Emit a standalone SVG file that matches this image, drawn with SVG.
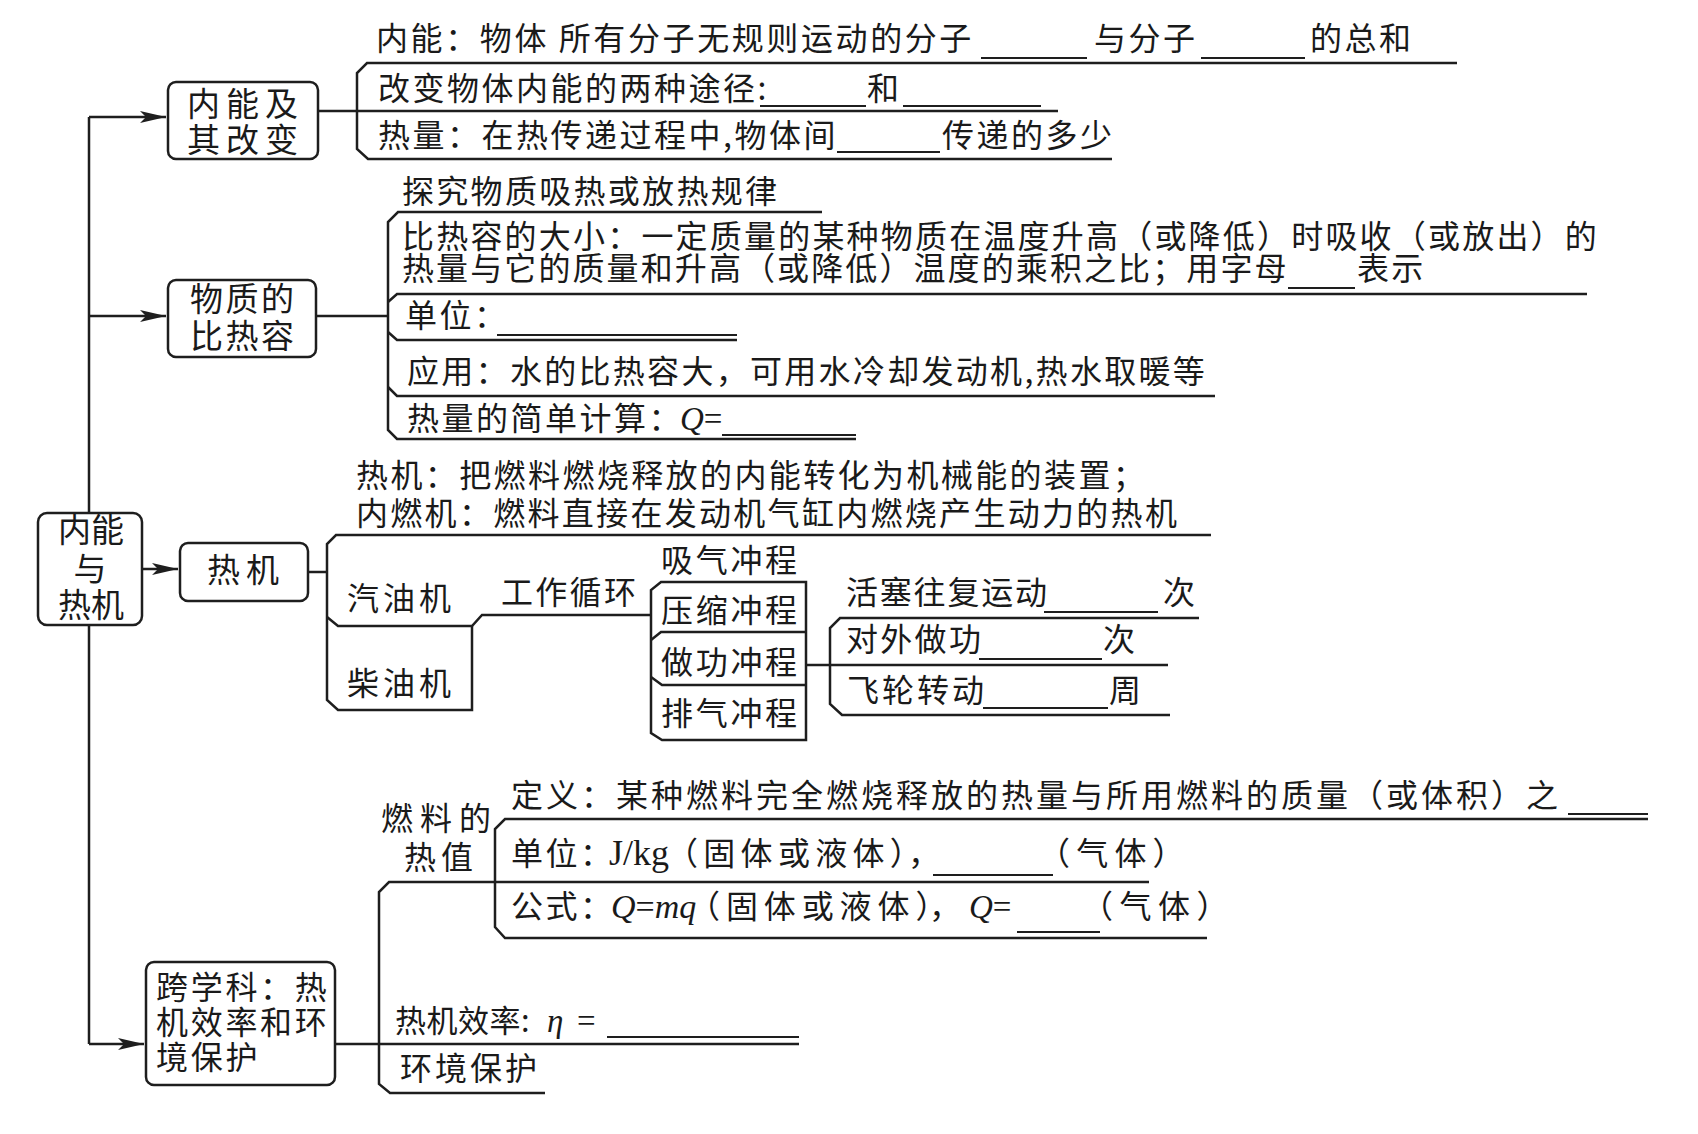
<svg xmlns="http://www.w3.org/2000/svg" width="1698" height="1134" viewBox="0 0 1698 1134">
<defs>
<style>
.ln{fill:none;stroke:#1e1e1e;stroke-width:2.5;stroke-linejoin:miter}
.bl{fill:none;stroke:#1e1e1e;stroke-width:2}
.box{fill:#fff;stroke:#1e1e1e;stroke-width:2.5}
.t{font-family:"Noto Sans CJK SC","Noto Sans CJK JP",sans-serif;font-size:32px;fill:#1a1a1a;letter-spacing:2.5px}
.bx{font-family:"Noto Sans CJK SC","Noto Sans CJK JP",sans-serif;font-size:33px;fill:#1a1a1a}
.s{font-family:"Liberation Serif",serif;font-size:33px;fill:#1a1a1a;letter-spacing:0}
.i{font-style:italic}
</style>
<marker id="ah" markerWidth="26" markerHeight="12" refX="26" refY="6" orient="auto" markerUnits="userSpaceOnUse">
<path d="M0,0 L26,6 L0,12 L6,6 Z" fill="#1e1e1e"/>
</marker>
</defs>
<rect width="1698" height="1134" fill="#fff"/>

<g id="connectors">
<path class="ln" d="M89 117 V1044"/>
<path class="ln" d="M89 117 H166" marker-end="url(#ah)"/>
<path class="ln" d="M89 316 H166" marker-end="url(#ah)"/>
<path class="ln" d="M89 1044 H144" marker-end="url(#ah)"/>
<path class="ln" d="M142 569 H178" marker-end="url(#ah)"/>
<path class="ln" d="M318 111 H357"/>
<path class="ln" d="M316 316 H388"/>
<path class="ln" d="M307 572 H327"/>
<path class="ln" d="M335 1044 H379"/>
<path class="ln" d="M806 665 H830"/>
</g>

<g id="node-root">
<rect class="box" x="38" y="513" width="104" height="112" rx="9"/>
<text class="bx" text-anchor="middle" font-size="31"><tspan x="91" y="542">内能</tspan><tspan x="90" y="581">与</tspan><tspan x="91" y="617">热机</tspan></text>
</g>

<g id="node-internal-energy">
<rect class="box" x="168" y="82" width="150" height="77" rx="8"/>
<text class="bx" letter-spacing="6"><tspan x="187" y="116">内能及</tspan><tspan x="187" y="152">其改变</tspan></text>
</g>

<g id="s1-rows">
<path class="ln" d="M1457 63 H367 L357 73 V149 L368 159 H1112"/>
<path class="ln" d="M357 111 H1058"/>
<path class="bl" d="M981 58 H1087 M1201 58 H1305 M760 106 H866 M903 106 H1041 M837 152 H940"/>
<text class="t" x="376" y="50" style="letter-spacing:2.6px">内能：物体 所有分子无规则运动的分子</text>
<text class="t" x="1094" y="50">与分子</text>
<text class="t" x="1310" y="50">的总和</text>
<text class="t" x="378" y="100">改变物体内能的两种途径:</text>
<text class="t" x="867" y="100">和</text>
<text class="t" x="378" y="147">热量：在热传递过程中,物体间</text>
<text class="t" x="942" y="147">传递的多少</text>
</g>

<g id="node-specific-heat">
<rect class="box" x="168" y="280" width="148" height="77" rx="8"/>
<text class="bx" font-size="32" letter-spacing="2.5"><tspan x="190" y="311">物质的</tspan><tspan x="190" y="348">比热容</tspan></text>
</g>

<g id="s2-rows">
<path class="ln" d="M822 212 H398 L388 222 V430 L397 439 H856"/>
<path class="ln" d="M388 302 L397 294 H1587"/>
<path class="ln" d="M388 332 L397 340 H737"/>
<path class="ln" d="M388 387 L397 396 H1215"/>
<path class="bl" d="M1288 288 H1355 M497 335 H737 M722 435 H856"/>
<text class="t" x="402" y="203" style="letter-spacing:2.3px">探究物质吸热或放热规律</text>
<text class="t" style="letter-spacing:2.2px"><tspan x="402" y="248">比热容的大小：一定质量的某种物质在温度升高（或降低）时吸收（或放出）的</tspan><tspan x="402" y="280" style="letter-spacing:2.1px">热量与它的质量和升高（或降低）温度的乘积之比；用字母</tspan><tspan x="1357" y="280">表示</tspan></text>
<text class="t" x="405" y="327">单位：</text>
<text class="t" x="407" y="383" style="letter-spacing:2.3px">应用：水的比热容大，可用水冷却发动机,热水取暖等</text>
<text class="t" y="430"><tspan x="407">热量的简单计算：</tspan><tspan class="s" x="680"><tspan class="i">Q</tspan>=</tspan></text>
</g>

<g id="node-heat-engine">
<rect class="box" x="180" y="543" width="128" height="58" rx="8"/>
<text class="bx" x="207" y="582" letter-spacing="6">热机</text>
</g>

<g id="s3-rows">
<text class="t"><tspan x="356" y="487" style="letter-spacing:2.4px">热机：把燃料燃烧释放的内能转化为机械能的装置；</tspan><tspan x="356" y="525" style="letter-spacing:2.3px">内燃机：燃料直接在发动机气缸内燃烧产生动力的热机</tspan></text>
<path class="ln" d="M1211 535 H336 L327 544 V700 L338 710 H472 V626"/>
<path class="ln" d="M327 617 L338 626 H472 L482 615 H651"/>
<text class="t" x="347" y="610" style="letter-spacing:4px">汽油机</text>
<text class="t" x="347" y="695" style="letter-spacing:4px">柴油机</text>
<text class="t" x="501" y="604" style="letter-spacing:2.3px">工作循环</text>
</g>

<g id="s3-strokes">
<path class="ln" d="M661 582 H806 V740 H662 L651 733 V590 Z"/>
<path class="ln" d="M651 640 L661 632 H806"/>
<path class="ln" d="M651 677 L662 685 H806"/>
<text class="t" x="661" y="572" style="letter-spacing:2.7px">吸气冲程</text>
<text class="t" x="661" y="622" style="letter-spacing:2.7px">压缩冲程</text>
<text class="t" x="661" y="674" style="letter-spacing:2.7px">做功冲程</text>
<text class="t" x="661" y="725" style="letter-spacing:2.7px">排气冲程</text>
</g>

<g id="s3-power-stroke">
<path class="ln" d="M1199 618 H840 L830 628 V704 L842 715 H1170"/>
<path class="ln" d="M830 665 H1168"/>
<path class="bl" d="M1044 612 H1158 M979 659 H1102 M983 708 H1108"/>
<text class="t" x="846" y="604" style="letter-spacing:1.8px">活塞往复运动</text>
<text class="t" x="1163" y="604">次</text>
<text class="t" x="846" y="651" style="letter-spacing:2.3px">对外做功</text>
<text class="t" x="1103" y="651">次</text>
<text class="t" x="847" y="702" style="letter-spacing:3px">飞轮转动</text>
<text class="t" x="1109" y="702">周</text>
</g>

<g id="node-efficiency">
<rect class="box" x="146" y="962" width="189" height="123" rx="8"/>
<text class="t" style="letter-spacing:2.7px"><tspan x="156" y="999">跨学科：热</tspan><tspan x="156" y="1034">机效率和环</tspan><tspan x="156" y="1069">境保护</tspan></text>
</g>

<g id="s4-rows">
<path class="ln" d="M1149 882 H389 L379 892 V1084 L390 1093 H545"/>
<path class="ln" d="M1648 819 H505 L495 829 V927 L505 938 H1207"/>
<path class="ln" d="M379 1044 H799"/>
<path class="bl" d="M1568 814 H1648 M933 875 H1053 M1017 932 H1100 M607 1037 H799"/>
<text class="t"><tspan x="381" y="830" style="letter-spacing:7px">燃料的</tspan><tspan x="404" y="869" style="letter-spacing:5px">热值</tspan></text>
<text class="t" x="511" y="807" style="letter-spacing:3px">定义：某种燃料完全燃烧释放的热量与所用燃料的质量（或体积）之</text>
<text class="t" y="865"><tspan x="511">单位：</tspan><tspan class="s" x="609" style="font-size:36px">J/kg</tspan><tspan x="666" style="letter-spacing:5.3px">（固体或液体）</tspan><tspan x="908">，</tspan></text>
<text class="t" x="1038" y="865" style="letter-spacing:6.2px">（气体）</text>
<text class="t" y="918"><tspan x="511">公式：</tspan><tspan class="s" x="611" style="font-size:34px"><tspan class="i">Q</tspan>=<tspan class="i">mq</tspan></tspan><tspan x="688" style="letter-spacing:5.9px">（固体或液体）</tspan><tspan x="929">，</tspan><tspan class="s" x="969"><tspan class="i">Q</tspan>=</tspan></text>
<text class="t" x="1081" y="918" style="letter-spacing:6.5px">（气体）</text>
<text class="t" x="395" y="1032" style="letter-spacing:0.5px;font-size:31px">热机效率:</text>
<text class="s i" x="547" y="1032">η</text>
<text class="s" x="577" y="1032">=</text>
<text class="t" x="400" y="1080" style="letter-spacing:3px">环境保护</text>
</g>
</svg>
